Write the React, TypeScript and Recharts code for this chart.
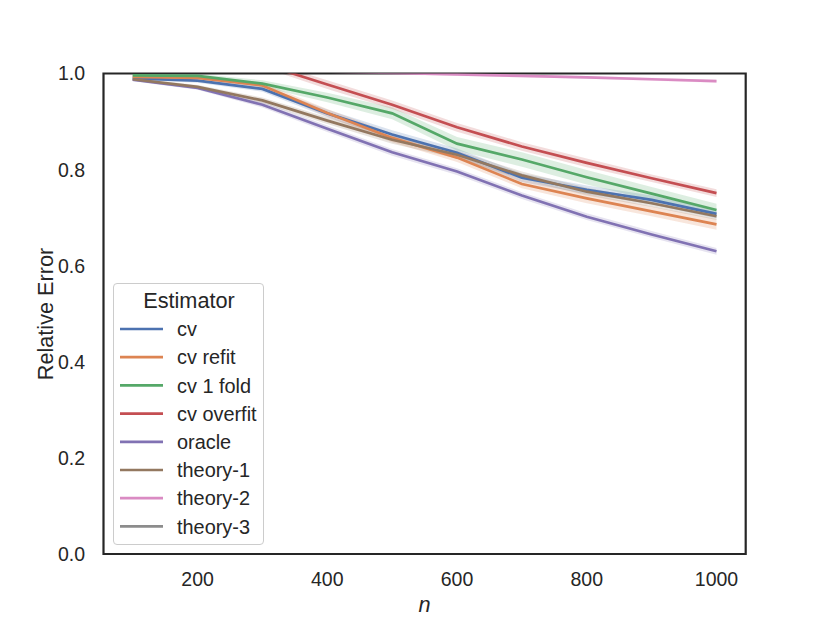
import React from 'react';
import { ComposedChart, Line, Area, XAxis, YAxis, Legend, ReferenceArea, Label } from 'recharts';

const nValues = [100, 200, 300, 400, 500, 600, 700, 800, 900, 1000];
const xTicks = [200, 400, 600, 800, 1000];
const yTicks = [0, 0.2, 0.4, 0.6, 0.8, 1.0];

const cvValues = [0.990, 0.985, 0.968, 0.917, 0.873, 0.835, 0.783, 0.758, 0.737, 0.708];
const cvRefitValues = [0.993, 0.991, 0.975, 0.918, 0.866, 0.825, 0.770, 0.740, 0.713, 0.686];
const cvOneFoldValues = [0.996, 0.995, 0.979, 0.950, 0.917, 0.854, 0.821, 0.784, 0.750, 0.716];
const cvOverfitValues = [1.060, 1.045, 1.020, 0.977, 0.935, 0.888, 0.848, 0.814, 0.782, 0.751];
const oracleValues = [0.987, 0.970, 0.935, 0.885, 0.836, 0.796, 0.746, 0.702, 0.665, 0.630];
const theory1Values = [0.988, 0.972, 0.944, 0.902, 0.862, 0.831, 0.788, 0.754, 0.730, 0.703];
const theory2Values = [1.012, 1.010, 1.008, 1.004, 1.001, 0.998, 0.995, 0.992, 0.988, 0.984];
const theory3Values = [1.040, 1.040, 1.035, 1.035, 1.030, 1.030, 1.025, 1.025, 1.020, 1.020];

// half-width of the shaded confidence band
const cvSpread = [0.003, 0.004, 0.006, 0.008, 0.009, 0.009, 0.009, 0.009, 0.009, 0.009];
const cvRefitSpread = [0.003, 0.004, 0.006, 0.008, 0.009, 0.009, 0.009, 0.010, 0.010, 0.011];
const cvOneFoldSpread = [0.003, 0.004, 0.007, 0.010, 0.012, 0.014, 0.015, 0.015, 0.014, 0.013];
const cvOverfitSpread = [0.006, 0.006, 0.007, 0.009, 0.009, 0.009, 0.009, 0.009, 0.008, 0.008];
const oracleSpread = [0.003, 0.004, 0.006, 0.007, 0.007, 0.007, 0.007, 0.007, 0.007, 0.007];
const theory1Spread = [0.003, 0.004, 0.006, 0.007, 0.008, 0.008, 0.008, 0.008, 0.008, 0.008];
const theory2Spread = [0.003, 0.003, 0.003, 0.003, 0.003, 0.003, 0.003, 0.003, 0.003, 0.003];
const theory3Spread = [0.003, 0.003, 0.003, 0.003, 0.003, 0.003, 0.003, 0.003, 0.003, 0.003];

const series = [
  { key: 'cv', name: 'cv', color: '#4c72b0', values: cvValues, spread: cvSpread },
  { key: 'cvRefit', name: 'cv refit', color: '#dd8452', values: cvRefitValues, spread: cvRefitSpread },
  { key: 'cvOneFold', name: 'cv 1 fold', color: '#55a868', values: cvOneFoldValues, spread: cvOneFoldSpread },
  { key: 'cvOverfit', name: 'cv overfit', color: '#c44e52', values: cvOverfitValues, spread: cvOverfitSpread },
  { key: 'oracle', name: 'oracle', color: '#8172b3', values: oracleValues, spread: oracleSpread },
  { key: 'theory1', name: 'theory-1', color: '#937860', values: theory1Values, spread: theory1Spread },
  { key: 'theory2', name: 'theory-2', color: '#da8bc3', values: theory2Values, spread: theory2Spread },
  { key: 'theory3', name: 'theory-3', color: '#8c8c8c', values: theory3Values, spread: theory3Spread },
];

const chartData = nValues.map((n, i) => {
  const row: any = { n };
  series.forEach((s) => {
    row[s.key] = s.values[i];
    row[s.key + 'Band'] = [s.values[i] - s.spread[i], s.values[i] + s.spread[i]];
  });
  return row;
});

const FONT = '"Liberation Sans", Arial, Helvetica, sans-serif';
const INK = '#262626';

const LegendBox = () => (
  <div
    style={{
      width: 151,
      height: 262,
      boxSizing: 'border-box',
      border: '1px solid #cccccc',
      borderRadius: 4,
      background: 'rgba(255,255,255,0.8)',
    }}
  >
    <svg width={149} height={260} style={{ display: 'block' }}>
      <text x={75} y={24} textAnchor="middle" fontSize={21.7} fontFamily={FONT} fill={INK}>
        Estimator
      </text>
      {series.map((s, i) => {
        const cy = 45 + i * 28.2;
        return (
          <g key={s.key}>
            <line x1={6} x2={49} y1={cy} y2={cy} stroke={s.color} strokeWidth={2.7} />
            <text x={63} y={cy} dy="0.36em" fontSize={19.9} fontFamily={FONT} fill={INK}>
              {s.name}
            </text>
          </g>
        );
      })}
    </svg>
  </div>
);

const XTitle = (props: any) => {
  const vb = props.viewBox;
  return (
    <text x={vb.x + vb.width / 2} y={612} textAnchor="middle" fontSize={21.7} fontStyle="italic" fontFamily={FONT} fill={INK}>
      n
    </text>
  );
};

const YTitle = () => (
  <text x={53} y={314} textAnchor="middle" fontSize={21.7} fontFamily={FONT} fill={INK} transform="rotate(-90, 53, 314)">
    Relative Error
  </text>
);

const App = () => {
  return (
    <div style={{ position: 'absolute', left: 0, top: 0, width: 830, height: 623, background: '#fff' }}>
      <ComposedChart width={830} height={623} data={chartData} margin={{ top: 73.5, right: 84.3, bottom: 0, left: 0 }}>
        <XAxis
          dataKey="n"
          type="number"
          domain={[55, 1045]}
          allowDataOverflow
          ticks={xTicks}
          height={69}
          axisLine={false}
          tickLine={false}
          tickSize={0}
          tickMargin={18.5}
          tick={{ fontSize: 19.5, fill: INK, fontFamily: FONT }}
        >
          <Label content={<XTitle />} />
        </XAxis>
        <YAxis
          type="number"
          domain={[0, 1]}
          allowDataOverflow
          ticks={yTicks}
          width={103.5}
          axisLine={false}
          tickLine={false}
          tickSize={0}
          tickMargin={18.5}
          tickFormatter={(v: number) => v.toFixed(1)}
          tick={{ fontSize: 19.5, fill: INK, fontFamily: FONT }}
        >
          <Label content={<YTitle />} />
        </YAxis>
        {series.map((s) => (
          <Area
            key={s.key + 'Band'}
            type="linear"
            dataKey={s.key + 'Band'}
            fill={s.color}
            fillOpacity={0.2}
            stroke="none"
            dot={false}
            activeDot={false}
            isAnimationActive={false}
            legendType="none"
          />
        ))}
        {series.map((s) => (
          <Line
            key={s.key}
            type="linear"
            dataKey={s.key}
            name={s.name}
            stroke={s.color}
            strokeWidth={2.7}
            dot={false}
            activeDot={false}
            isAnimationActive={false}
          />
        ))}
        <ReferenceArea x1={55} x2={1045} y1={0} y2={1} fill="none" stroke={INK} strokeWidth={2.2} />
        <Legend
          layout="vertical"
          align="center"
          verticalAlign="middle"
          content={<LegendBox />}
          wrapperStyle={{ position: 'absolute', left: 113, top: 283, width: 151, height: 262 }}
        />
      </ComposedChart>
    </div>
  );
};

export default App;
